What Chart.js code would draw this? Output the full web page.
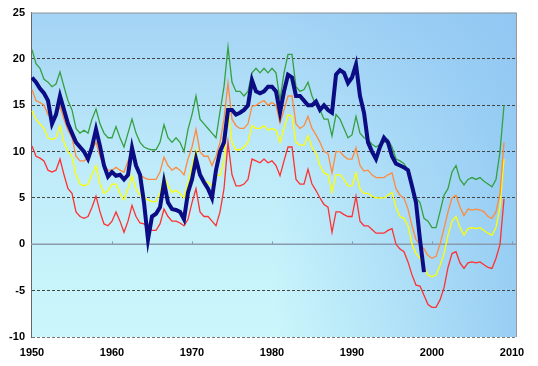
<!DOCTYPE html>
<html>
<head>
<meta charset="utf-8">
<script src="https://cdn.jsdelivr.net/npm/chart.js@4/dist/chart.umd.min.js"></script>
<style>
  html, body { margin: 0; padding: 0; background: #fff; }
  #wrap { width: 538px; height: 366px; }
</style>
</head>
<body>
<div id="wrap"><canvas id="myChart" width="538" height="366"></canvas></div>
<script>
// half-year steps, 1950.0 .. 2009.0
var years = Array.from({length: 119}, function (_, i) { return 1950 + i * 0.5; });
var xTicks = [1950, 1960, 1970, 1980, 1990, 2000, 2010];

var Green = [21, 19.5, 19, 17.8, 17.5, 17, 17.3, 18.6, 17, 15.5,
  14.5, 12.5, 12, 12.3, 12, 13.5, 14.6, 13, 12, 11.5,
  11.5, 12.7, 11.5, 10.5, 12, 13.5, 12, 11, 10.5, 10.3,
  10.2, 10.2, 11, 12.9, 11.5, 11, 11.5, 11, 10, 12.4,
  14, 16, 13.5, 13, 12.5, 12, 11.5, 14.3, 17, 21.3,
  17.5, 16.5, 16.5, 16, 16.5, 18.5, 19, 18.5, 19, 18.5,
  19, 18.5, 15.6, 18.5, 20.5, 20.5, 17, 16.5, 16.7, 17.5,
  16, 15, 14.5, 13.5, 13.5, 11.7, 14, 13.5, 12.5, 11.5,
  11.8, 13.8, 12, 11.5, 11.3, 10.8, 10.5, 10.8, 11, 11.3,
  10.5, 9.2, 9, 8.7, 8, 6.5, 5, 4.5, 2.8, 2.5,
  1.8, 1.8, 3.5, 5.3, 6, 7.8, 8.5, 7, 6.4, 7,
  7.2, 7, 7.2, 6.8, 6.5, 6.2, 7, 10, 15];

var Orange = [16.7, 15.5, 15.3, 15, 14, 13.5, 13.8, 14.9, 13.5, 12.3,
  11.5, 9.5, 9, 9, 9.3, 10.3, 11, 9.5, 8.5, 8,
  8, 8.3, 8, 7.8, 9, 10, 8.5, 7.5, 7.2, 7,
  7, 7, 7.8, 9.4, 8.5, 8, 8.3, 8, 7.5, 9.2,
  10.5, 12.4, 10, 9.5, 9.5, 8.5, 9.5, 11, 13.5, 17.4,
  13.5, 12.8, 12.5, 12.5, 13, 14.9, 15, 15.3, 15.5, 15,
  15.3, 15, 13.1, 14.5, 16, 16, 13, 12.5, 12.8, 13.8,
  12.5, 11.8, 11, 10, 9.8, 7.7, 10, 10, 9.5, 9.2,
  9.2, 10.4, 8.5, 7.9, 8, 7.5, 7.2, 7.2, 7.2, 7.5,
  7.7, 6, 5.3, 5, 3.8, 2, 0.5, 0, -0.5, -1.2,
  -1.5, -1.3, 0, 1.7, 3.5, 5, 5.3, 4, 3.1, 3.8,
  3.7, 3.8, 3.7, 3.5, 3, 2.8, 3.5, 5.5, 11];

var Yellow = [14.4, 13.5, 13, 12.5, 11.5, 11.3, 11.5, 12.8, 11, 10,
  9.5, 7.5, 6.5, 6.3, 6.5, 7.5, 8.5, 6.5, 5.5, 5.8,
  6.5, 6.5, 5.5, 4.8, 6, 7.4, 6, 5.3, 5, 4.8,
  4.6, 4.6, 5.5, 7.4, 6.3, 5.6, 5.8, 5.5, 5, 6.7,
  8.5, 10.2, 7.5, 6.7, 6.7, 6.3, 7.5, 7.4, 9, 14.5,
  11, 10.2, 10.2, 10.5, 11, 12.8, 12.5, 12.5, 12.8, 12.3,
  12.5, 12.3, 11, 12.5, 14, 13.8, 11, 10.7, 10.7, 11.7,
  10.5, 9.8, 8.5, 7.7, 7.5, 5.6, 7.5, 7.5, 7, 6.3,
  6.3, 7.7, 6, 5.5, 5.5, 5.2, 5, 5, 5, 5.3,
  5.6, 4, 3, 2.8, 2, 0, -1, -1.5, -2.5, -3.3,
  -3.5, -3.3, -2.3, -1, 1, 2.5, 3, 1.8, 1, 1.7,
  1.8, 1.7, 1.8, 1.5, 1.2, 1, 1.8, 4, 9.2];

var Red = [10.6, 9.5, 9.3, 9, 8, 7.8, 8, 9.2, 7.5, 6,
  5.5, 3.5, 3, 2.8, 3, 4, 5.2, 3.5, 2.2, 2,
  2.5, 3.5, 2.5, 1.3, 2.5, 4.2, 3, 2.3, 2.2, 1.8,
  1.5, 1.5, 2.2, 3.8, 3, 2.5, 2.5, 2.3, 2, 2.7,
  4.5, 6, 3.5, 3, 3, 2.5, 2, 3.5, 6, 11,
  7.5, 6.3, 6.3, 6.5, 7, 9.2, 9, 8.8, 9.2, 8.8,
  9, 8.5, 7.4, 9, 10.5, 10.5, 7, 6.5, 6.5, 8.1,
  6.5, 5.8, 5, 4.3, 4, 1.3, 3.5, 3.5, 3.2, 3,
  3, 5.2, 2.5, 2, 2, 1.6, 1.2, 1.2, 1.2, 1.5,
  1.7, 0, -0.5, -0.8, -1.9, -3.3, -4.4, -4.5, -5.5, -6.5,
  -6.8, -6.8, -6, -4.7, -2.5, -1, -0.8, -2, -2.6, -2,
  -1.9, -2, -1.9, -2.2, -2.5, -2.6, -1.5, 0, 4.9];

// thick navy line stops early in 1999
var Navy = [18, 17.5, 16.8, 16.3, 15.5, 13, 14, 16, 14.5, 13,
  12, 11, 10.5, 10, 9.2, 10.5, 12.4, 10.6, 8.5, 7.3,
  7.8, 7.4, 7.5, 7, 7.5, 10.4, 8.5, 7.5, 4.5, 0.5,
  3, 3.3, 4, 6.7, 4.5, 3.8, 3.7, 3.5, 2.7, 5.6,
  7, 9.2, 7.5, 6.7, 6, 5, 8, 10, 11, 14.5,
  14.5, 14, 14.2, 14.5, 15, 17.7, 16.5, 16.3, 16.5, 17,
  17, 16.5, 14.2, 16.5, 18.3, 18, 16, 16, 15.5, 15,
  15, 15.4, 14.5, 15, 14.5, 14.2, 18.3, 18.8, 18.5, 17.4,
  18, 19.4, 16, 14.2, 11, 10, 9.2, 10.5, 11.5, 11,
  9.5, 8.7, 8.5, 8.3, 8, 6.3, 4.5, 0.5, -3];

function pts(vals) {
  return vals.map(function (v, i) { return {x: years[i], y: v}; });
}

// plot background gradient + frame + zero line
var bgPlugin = {
  id: 'bg',
  beforeDraw: function (chart) {
    var a = chart.chartArea, c = chart.ctx;
    var w = a.right - a.left, h = a.bottom - a.top;
    c.save();
    var g = c.createLinearGradient(0, a.top, 0, a.bottom);
    g.addColorStop(0, '#a3d3f5');
    g.addColorStop(0.5, '#c0ecfa');
    g.addColorStop(1, '#cbf7fb');
    c.fillStyle = g;
    c.fillRect(a.left, a.top, w, h);
    var g2 = c.createLinearGradient(a.left, 0, a.right, 0);
    g2.addColorStop(0, 'rgba(140,196,242,0)');
    g2.addColorStop(0.5, 'rgba(140,196,242,0)');
    g2.addColorStop(1, 'rgba(140,196,242,0.8)');
    c.fillStyle = g2;
    c.fillRect(a.left, a.top, w, h);
    c.restore();
  },
  beforeDatasetsDraw: function (chart) {
    var a = chart.chartArea, c = chart.ctx;
    var y0 = chart.scales.y.getPixelForValue(0);
    c.save();
    c.strokeStyle = '#8a9aae';
    c.lineWidth = 1.5;
    c.beginPath();
    c.moveTo(a.left, y0);
    c.lineTo(a.right, y0);
    c.stroke();
    c.lineWidth = 1;
    xTicks.slice(1).forEach(function (t) {
      var x = Math.round(chart.scales.x.getPixelForValue(t)) + 0.5;
      c.beginPath();
      c.moveTo(x, y0 - 3);
      c.lineTo(x, y0);
      c.stroke();
    });
    c.strokeStyle = '#999';
    c.beginPath();
    c.moveTo(a.left, a.top + 0.5);
    c.lineTo(a.right - 0.5, a.top + 0.5);
    c.lineTo(a.right - 0.5, a.bottom);
    c.stroke();
    c.restore();
  }
};

var ctx = document.getElementById("myChart");
var myChart = new Chart(ctx, {
  type: 'line',
  data: {
    datasets: [
      { data: pts(Navy), label: "Navy", borderColor: "#0c0c84", borderWidth: 4 },
      { data: pts(Green), label: "Green", borderColor: "#35a040", borderWidth: 1.3 },
      { data: pts(Orange), label: "Orange", borderColor: "#ff8a3c", borderWidth: 1.3 },
      { data: pts(Yellow), label: "Yellow", borderColor: "#ffff00", borderWidth: 1.3 },
      { data: pts(Red), label: "Red", borderColor: "#ff3030", borderWidth: 1.3 }
    ]
  },
  options: {
    responsive: false,
    animation: false,
    events: [],
    layout: { padding: { left: 0, right: 21, top: 8, bottom: 0 } },
    elements: { point: { radius: 0 }, line: { tension: 0, fill: false } },
    plugins: { legend: { display: false }, tooltip: { enabled: false } },
    scales: {
      x: {
        type: 'linear',
        min: 1949.875,
        max: 2010.625,
        afterBuildTicks: function (s) {
          s.ticks = xTicks.map(function (v) { return {value: v}; });
        },
        afterFit: function (s) { s.height = 29; },
        grid: { display: false, drawTicks: false },
        border: { display: false },
        ticks: {
          padding: 9,
          maxRotation: 0,
          autoSkip: false,
          color: '#000',
          font: { family: 'Liberation Sans, Arial', size: 11, weight: 'bold' },
          callback: function (v) { return String(v); }
        }
      },
      y: {
        min: -10,
        max: 25,
        afterFit: function (s) { s.width = 31; },
        ticks: {
          stepSize: 5,
          padding: 6,
          color: '#000',
          font: { family: 'Liberation Sans, Arial', size: 11, weight: 'bold' }
        },
        grid: {
          drawTicks: false,
          lineWidth: 1,
          color: function (c) {
            if (c.tick.value === 0 || c.tick.value === 25) return 'rgba(0,0,0,0)';
            return c.tick.value === -10 ? '#777' : '#444';
          }
        },
        border: { display: true, color: '#666', width: 1, dash: [3, 2] }
      }
    }
  },
  plugins: [bgPlugin]
});
</script>
</body>
</html>
